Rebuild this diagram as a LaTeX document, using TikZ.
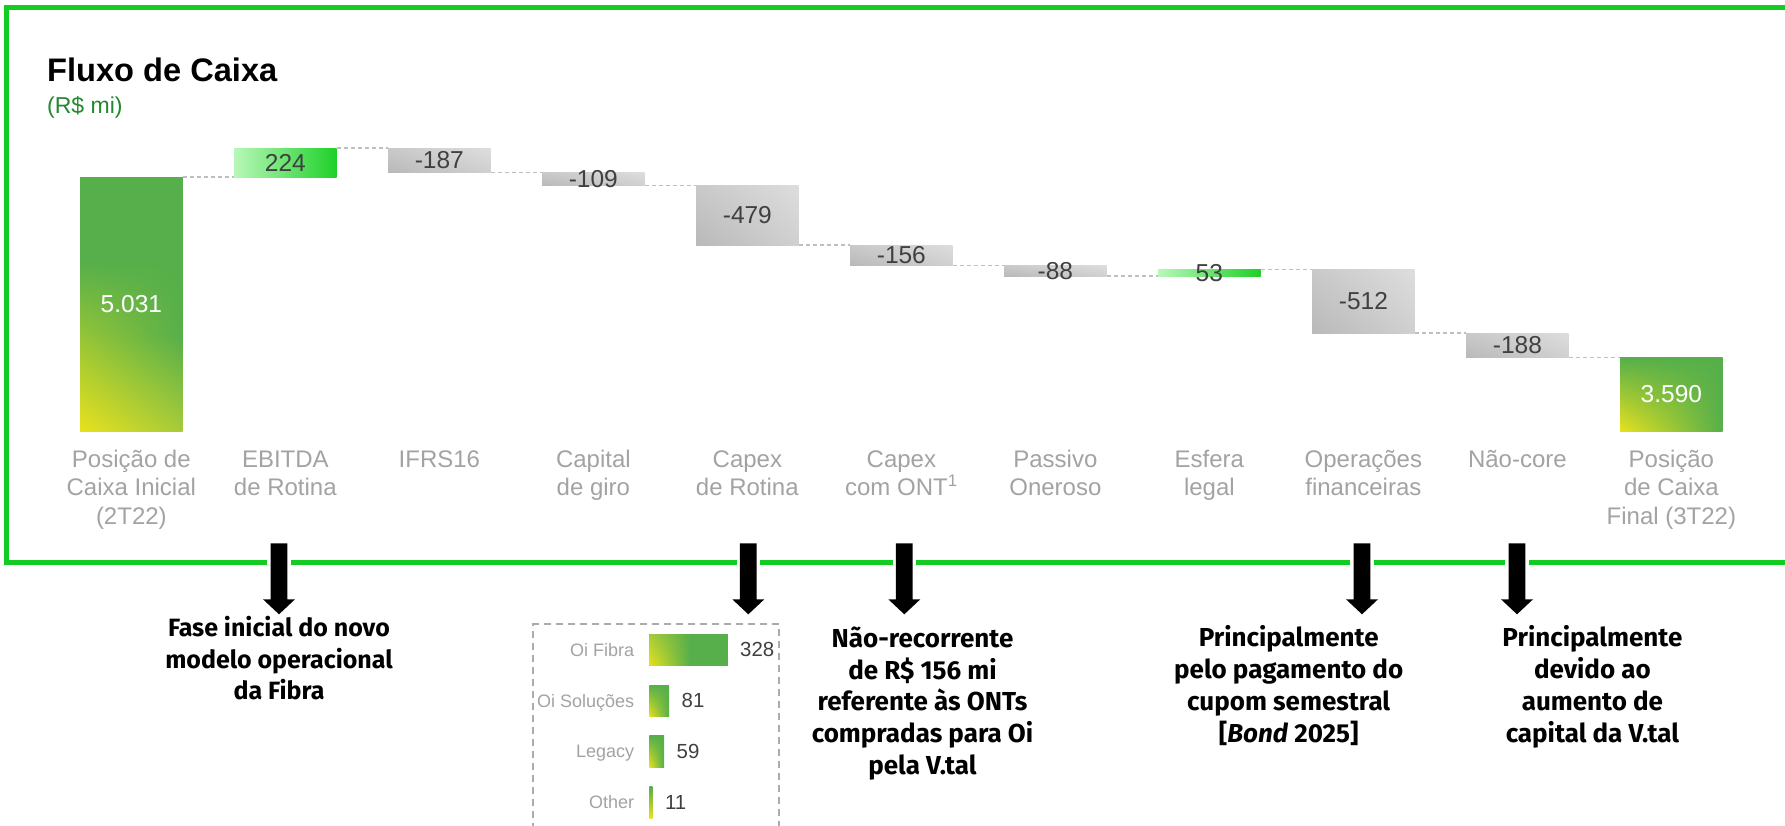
\documentclass[tikz,border=0pt]{standalone}
\usepackage{fontspec}
\setmainfont{Liberation Sans}
\newfontfamily\annfont{Fira Sans}
\usetikzlibrary{calc,shadings}
\definecolor{frameG}{HTML}{12CC22}
\definecolor{cG}{HTML}{56AF4A}
\definecolor{cY}{HTML}{E8E11E}
\definecolor{cYG}{HTML}{A6CB3A}
\colorlet{cML}{cY!44!cG}
\definecolor{eLo}{HTML}{B8F8B8}
\definecolor{eHi}{HTML}{1ED028}
\definecolor{gA}{HTML}{B9B9B9}
\definecolor{gB}{HTML}{C9C9C9}
\definecolor{gC}{HTML}{D0D0D0}
\definecolor{gD}{HTML}{DDDDDD}
\definecolor{valC}{HTML}{404040}
\definecolor{catC}{HTML}{A3A3A3}
\definecolor{subG}{HTML}{23882F}
\definecolor{dashC}{HTML}{BFBFBF}
\definecolor{boxC}{HTML}{ABABAB}
\tikzset{
  barrow/.pic={
    \fill[white] (-11.8,8) rectangle (11.8,32);
    \fill[black] (-8.35,0) -- (8.35,0) -- (8.35,56) -- (16,56) -- (0,71) -- (-16,56) -- (-8.35,56) -- cycle;
  }
}
\begin{document}
\begin{tikzpicture}[x=1pt,y=-1pt,
  bar/.style={rectangle, inner sep=0pt, outer sep=0pt, minimum width=102.7pt, anchor=north west},
  graybar/.style={bar, shade, upper left=gB, upper right=gD, lower left=gA, lower right=gC},
  posbar/.style={bar, shade, left color=eLo, right color=eHi},
  totbar/.style={bar, fill=cG},
  val/.style={inner sep=0pt, text=valC, font=\fontsize{24.5}{28}\selectfont},
  wval/.style={val, text=white},
  cat/.style={inner sep=0pt, anchor=base, align=center, text=catC, font=\fontsize{24}{28.5}\selectfont},
  conn/.style={draw=dashC, line width=1.2pt, dash pattern=on 4pt off 3pt},
  ann/.style={inner sep=0pt, anchor=base, align=center, font=\annfont\bfseries\fontsize{26}{31.8}\selectfont},
  ibar/.style={rectangle, inner sep=0pt, outer sep=0pt, anchor=north west, minimum height=31.3pt},
  ilab/.style={inner sep=0pt, anchor=base east, text=catC, font=\fontsize{18}{20}\selectfont},
  ival/.style={inner sep=0pt, anchor=west, text=valC, font=\fontsize{20.4}{23}\selectfont}
]
\useasboundingbox (0,0) rectangle (1785,825);
\fill[white] (0,0) rectangle (1785,825);

% frame
\draw[frameG, line width=5pt] (1800,7.8) -- (6.6,7.8) -- (6.6,562.7) -- (1800,562.7);

% title
\node[anchor=base west, inner sep=0pt, font=\bfseries\fontsize{32.6}{36}\selectfont] (title) at (47,81.7) {Fluxo de Caixa};
\node[anchor=base west, inner sep=0pt, text=subG, font=\fontsize{23}{26}\selectfont] (unit) at (47,113.4) {(R\$ mi)};

% bars
\node[totbar, minimum height=254pt] (b1) at (80,177) {};
\shade[upper left=cG, upper right=cG, lower left=cML, lower right=cG] (80,262) rectangle (182.7,337);
\shade[upper left=cML, upper right=cG, lower left=cY, lower right=cYG] (80,336.5) rectangle (182.7,431);
\node[posbar, minimum height=29pt] (b2) at (234,148) {};
\node[graybar, minimum height=24.5pt] (b3) at (388,148) {};
\node[graybar, minimum height=13pt] (b4) at (542,172.5) {};
\node[graybar, minimum height=59.5pt] (b5) at (696,185.5) {};
\node[graybar, minimum height=20.5pt] (b6) at (850,245) {};
\node[graybar, minimum height=10.5pt] (b7) at (1004,265.5) {};
\node[posbar, minimum height=6.5pt] (b8) at (1158,269.5) {};
\node[graybar, minimum height=63.5pt] (b9) at (1312,269.5) {};
\node[graybar, minimum height=24.5pt] (b10) at (1466,333) {};
\node[bar, shade, upper left=cG, upper right=cG, lower right=cG, lower left=cY, minimum height=73.5pt] (b11) at (1620,357.5) {};

% connectors
\draw[conn] (b1.north east) -- (b2.south west);
\draw[conn] (b2.north east) -- (b3.north west);
\draw[conn] (b3.south east) -- (b4.north west);
\draw[conn] (b4.south east) -- (b5.north west);
\draw[conn] (b5.south east) -- (b6.north west);
\draw[conn] (b6.south east) -- (b7.north west);
\draw[conn] (b7.south east) -- (b8.south west);
\draw[conn] (b8.north east) -- (b9.north west);
\draw[conn] (b9.south east) -- (b10.north west);
\draw[conn] (b10.south east) -- (b11.north west);

% values
\node[wval] (v1) at (b1.center) {5.031};
\node[val] (v2) at (b2.center) {224};
\node[val] (v3) at (b3.center) {-187};
\node[val] (v4) at (b4.center) {-109};
\node[val] (v5) at (b5.center) {-479};
\node[val] (v6) at (b6.center) {-156};
\node[val] (v7) at (b7.center) {-88};
\node[val] (v8) at (b8.center) {53};
\node[val] (v9) at (b9.center) {-512};
\node[val] (v10) at (b10.center) {-188};
\node[wval] (v11) at (b11.center) {3.590};

% category labels (base anchor = baseline of the last line)
\coordinate (rowA) at (0,467.3);
\coordinate (rowB) at (0,495.8);
\coordinate (rowC) at (0,524.3);
\node[cat] (l1) at (b1.center |- rowC) {Posição de\\Caixa Inicial\\(2T22)};
\node[cat] (l2) at (b2.center |- rowB) {EBITDA\\de Rotina};
\node[cat] (l3) at (b3.center |- rowA) {IFRS16};
\node[cat] (l4) at (b4.center |- rowB) {Capital\\de giro};
\node[cat] (l5) at (b5.center |- rowB) {Capex\\de Rotina};
\node[cat] (l6) at (b6.center |- rowB) {Capex\\com ONT\textsuperscript{1}};
\node[cat] (l7) at (b7.center |- rowB) {Passivo\\Oneroso};
\node[cat] (l8) at (b8.center |- rowB) {Esfera\\legal};
\node[cat] (l9) at (b9.center |- rowB) {Operações\\financeiras};
\node[cat] (l10) at (b10.center |- rowA) {Não-core};
\node[cat] (l11) at (b11.center |- rowC) {Posição\\de Caixa\\Final (3T22)};

% block arrows
\pic (a1) at (279,543.3) {barrow};
\pic (a2) at (748.3,543.3) {barrow};
\pic (a3) at (904.3,543.3) {barrow};
\pic (a4) at (1362,543.3) {barrow};
\pic (a5) at (1517,543.3) {barrow};

% annotations (base anchor = baseline of the last line)
\node[ann, font=\annfont\bfseries\fontsize{25}{31.3}\selectfont] (n1) at (279,699.3) {Fase inicial do novo\\modelo operacional\\da Fibra};
\node[ann] (n2) at (922.5,774.5) {Não-recorrente\\de R\$ 156 mi\\referente às ONTs\\compradas para Oi\\pela V.tal};
\node[ann] (n3) at (1288.7,742.1) {Principalmente\\pelo pagamento do\\cupom semestral\\{[}\textit{Bond} 2025{]}};
\node[ann] (n4) at (1592.4,742.1) {Principalmente\\devido ao\\aumento de\\capital da V.tal};

% inset
\draw[boxC, line width=1.8pt, dash pattern=on 7pt off 5pt] (533.3,830) -- (533.3,624.3) -- (779,624.3) -- (779,830);
\node[ibar, fill=cG, minimum width=78.7pt] (r1) at (649.3,634.3) {};
\shade[lower left=cY, upper left=cYG, upper right=cG, lower right=cG] (649.3,634.3) rectangle (690,665.6);
\node[ibar, shade, lower left=cY, upper left=cG, upper right=cG, lower right=cG, minimum width=19.7pt] (r2) at (649.3,685.1) {};
\node[ibar, shade, lower left=cY, upper left=cG, upper right=cG, lower right=cG, minimum width=14.7pt] (r3) at (649.3,735.9) {};
\node[ibar, shade, top color=cG, bottom color=cY, minimum width=3pt] (r4) at (649.3,786.7) {};
\node[ilab] (q1) at ($(r1.west)+(-15,6.3)$) {Oi Fibra};
\node[ilab] (q2) at ($(r2.west)+(-15,6.3)$) {Oi Soluções};
\node[ilab] (q3) at ($(r3.west)+(-15,6.3)$) {Legacy};
\node[ilab] (q4) at ($(r4.west)+(-15,6.3)$) {Other};
\node[ival] (w1) at ($(r1.east)+(12,0)$) {328};
\node[ival] (w2) at ($(r2.east)+(12.5,0)$) {81};
\node[ival] (w3) at ($(r3.east)+(12.5,0)$) {59};
\node[ival] (w4) at ($(r4.east)+(12.5,0)$) {11};
\end{tikzpicture}
\end{document}
